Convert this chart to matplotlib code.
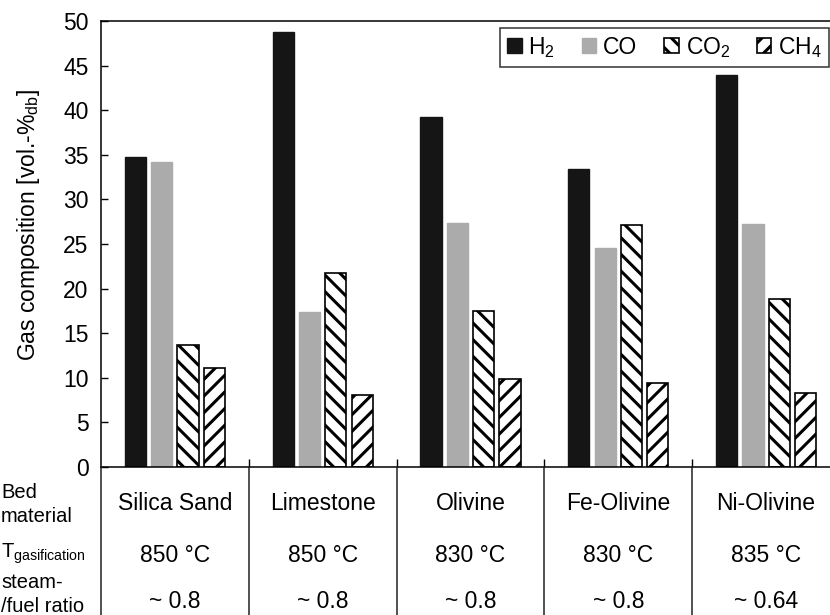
import matplotlib

matplotlib.use("Agg")
import matplotlib.pyplot as plt
import numpy as np
from matplotlib.lines import Line2D
from matplotlib.transforms import blended_transform_factory

plt.rcParams["font.family"] = ["Liberation Sans", "DejaVu Sans"]
plt.rcParams["mathtext.fontset"] = "custom"
plt.rcParams["mathtext.rm"] = "Liberation Sans"
plt.rcParams["mathtext.it"] = "Liberation Sans:italic"
plt.rcParams["hatch.linewidth"] = 2.2

# data
materials = ["Silica Sand", "Limestone", "Olivine", "Fe-Olivine", "Ni-Olivine"]
temperatures = ["850 °C", "850 °C", "830 °C", "830 °C", "835 °C"]
steam_fuel = ["~ 0.8", "~ 0.8", "~ 0.8", "~ 0.8", "~ 0.64"]
gases = ["H$_2$", "CO", "CO$_2$", "CH$_4$"]
h2 = [34.7, 48.8, 39.2, 33.4, 44.0]
co = [34.2, 17.4, 27.4, 24.6, 27.2]
co2 = [13.7, 21.8, 17.5, 27.1, 18.8]
ch4 = [11.1, 8.1, 9.9, 9.4, 8.3]

W, H = 830, 615
fig = plt.figure(figsize=(W / 100, H / 100), dpi=100)
ax_left, ax_right, ax_top, ax_bot = 101, 840, 21, 467
ax = fig.add_axes([ax_left / W, 1 - ax_bot / H, (ax_right - ax_left) / W, (ax_bot - ax_top) / H])

x = np.arange(len(materials))
step = 0.178
width = 0.143
styles = [
    dict(color="#151515", edgecolor="#151515"),
    dict(color="#ababab", edgecolor="#ababab"),
    dict(facecolor="white", edgecolor="black", hatch="\\\\", linewidth=1.2),
    dict(facecolor="white", edgecolor="black", hatch="//", linewidth=1.2),
]
series = [h2, co, co2, ch4]
for i, (vals, st, lab) in enumerate(zip(series, styles, gases)):
    ax.bar(x + (i - 1.5) * step, vals, width, label=lab, **st)

fs = 16.5
ax.set_xlim(-0.5, len(materials) - 0.5)
ax.set_ylim(0, 50)
ax.set_yticks(np.arange(0, 51, 5))
ax.set_xticks(x[:-1] + 0.5)
ax.set_xticklabels([])
ax.tick_params(axis="y", direction="in", length=5, width=1, labelsize=fs, pad=9)
ax.tick_params(axis="x", direction="in", length=6, width=1)
for s in ax.spines.values():
    s.set_linewidth(1.1)
ax.set_ylabel("Gas composition [vol.-%$_{\\mathrm{db}}$]", fontsize=fs)
ax.yaxis.set_label_coords(-59 / (ax_right - ax_left), (ax_bot - 225) / (ax_bot - ax_top))

# legend
leg = ax.legend(
    loc="upper right",
    bbox_to_anchor=(829 / W, 1 - 28 / H),
    bbox_transform=fig.transFigure,
    ncol=4,
    fontsize=fs,
    frameon=True,
    fancybox=False,
    edgecolor="black",
    handlelength=0.65,
    handleheight=0.65,
    handletextpad=0.3,
    columnspacing=1.15,
    borderpad=0.3,
    borderaxespad=0,
)
leg.get_frame().set_linewidth(1.1)

# table below the axes
tr = blended_transform_factory(ax.transData, fig.transFigure)
for xd in list(x[:-1] + 0.5):
    fig.add_artist(Line2D([xd, xd], [1 - ax_bot / H, 0], transform=tr, color="#222222", lw=1.1))
fig.add_artist(Line2D([ax_left / W, ax_left / W], [1 - ax_bot / H, 0], color="#222222", lw=1.1))

rows_y = [503, 555, 601]
for xi, m, t, s in zip(x, materials, temperatures, steam_fuel):
    for yy, txt in zip(rows_y, [m, t, s]):
        ax.text(xi, 1 - yy / H, txt, transform=tr, ha="center", va="center", fontsize=fs)

lfs = 14.5
fig.text(1 / W, 1 - 492 / H, "Bed", ha="left", va="center", fontsize=lfs)
fig.text(1 / W, 1 - 516 / H, "material", ha="left", va="center", fontsize=lfs)
fig.text(1 / W, 1 - 554 / H, "T$_{\\mathrm{gasification}}$", ha="left", va="center", fontsize=lfs)
fig.text(1 / W, 1 - 583 / H, "steam-", ha="left", va="center", fontsize=lfs)
fig.text(1 / W, 1 - 606 / H, "/fuel ratio", ha="left", va="center", fontsize=lfs)

fig.savefig("out.png", dpi=100)
